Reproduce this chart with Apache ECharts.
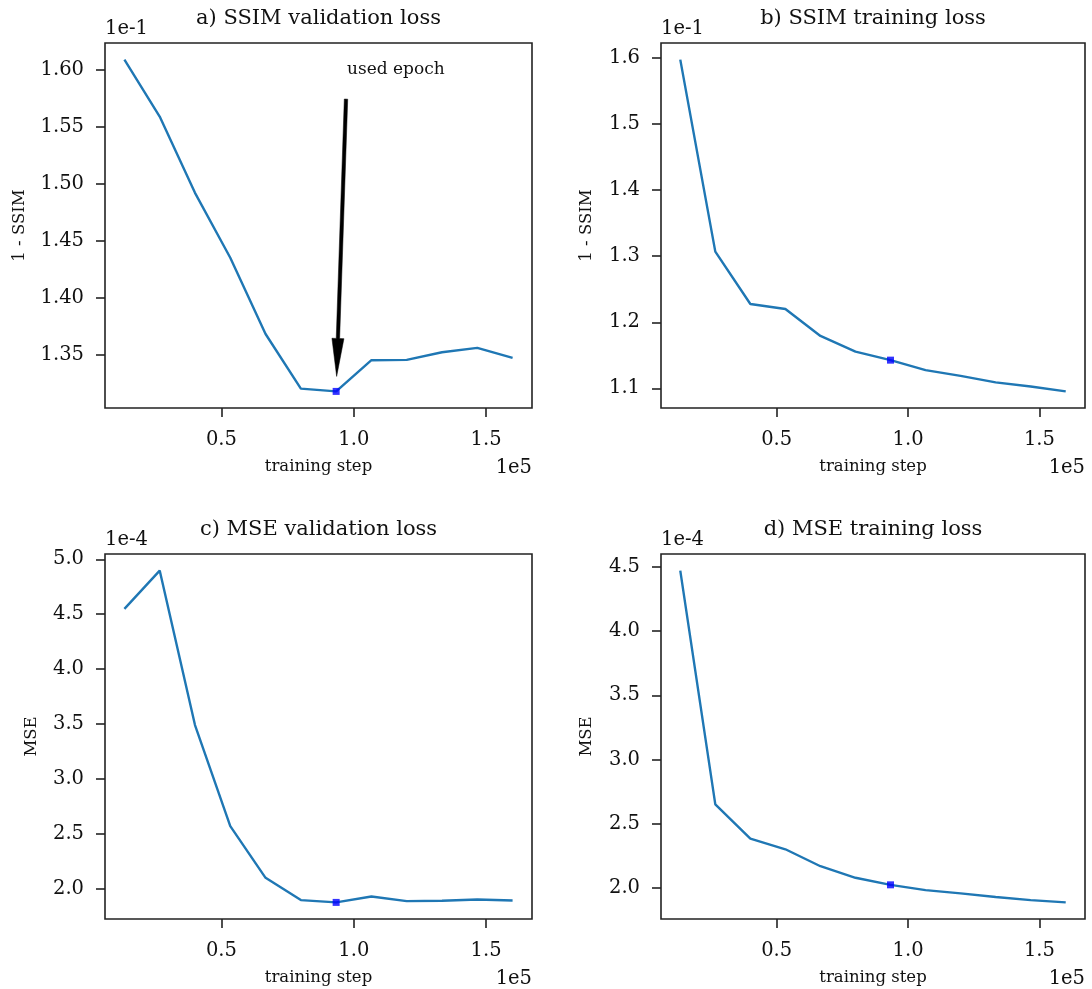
<!DOCTYPE html>
<html>
<head>
<meta charset="utf-8">
<script src="https://cdn.jsdelivr.net/npm/echarts@6/dist/echarts.min.js"></script>
<style>
html,body{margin:0;padding:0;background:#fff;}
#chart{width:1092px;height:989px;}
</style>
</head>
<body>
<div id="chart"></div>
<script>
// ---- data (values in the units shown on each axis: x in steps, y scaled by the offset label) ----
const steps = [13333, 26667, 40000, 53333, 66667, 80000, 93333, 106667, 120000, 133333, 146667, 160000];
const ssimVal   = [1.609, 1.559, 1.492, 1.435, 1.368, 1.320, 1.3176, 1.345, 1.3453, 1.352, 1.3558, 1.347];
const ssimTrain = [1.5975, 1.307, 1.2277, 1.2201, 1.1794, 1.1557, 1.1428, 1.1277, 1.1191, 1.1091, 1.103, 1.0955];
const mseVal    = [4.549, 4.897, 3.491, 2.570, 2.100, 1.897, 1.876, 1.930, 1.888, 1.891, 1.903, 1.894];
const mseTrain  = [4.4715, 2.650, 2.3835, 2.300, 2.168, 2.078, 2.023, 1.982, 1.956, 1.928, 1.904, 1.886];
const usedIdx = 6;
const titles = ['a) SSIM validation loss', 'b) SSIM training loss', 'c) MSE validation loss', 'd) MSE training loss'];
const yNames = ['1 - SSIM', '1 - SSIM', 'MSE', 'MSE'];
const yOffsets = ['1e-1', '1e-1', '1e-4', '1e-4'];
const xName = 'training step';
const xOffset = '1e5';
const xTicks = [50000, 100000, 150000];
const yTicks = [
  [1.35, 1.40, 1.45, 1.50, 1.55, 1.60],
  [1.1, 1.2, 1.3, 1.4, 1.5, 1.6],
  [2.0, 2.5, 3.0, 3.5, 4.0, 4.5, 5.0],
  [2.0, 2.5, 3.0, 3.5, 4.0, 4.5]
];
const yDecimals = [2, 1, 1, 1];
const annotText = 'used epoch';
const arrowTail = [97060, 1.5743]; // annotation start (data coords, panel a)

// ---- layout ----
const seriesData = [ssimVal, ssimTrain, mseVal, mseTrain];
const grids = [
  {left:105, top:43, width:427, height:365},
  {left:661, top:43, width:424, height:365},
  {left:105, top:554, width:427, height:365},
  {left:661, top:554, width:424, height:365}
];
const FONT = '"DejaVu Serif", "Liberation Serif", serif';
const INK = '#111';
const FRAME = '#222';

function pad(arr){
  const mn = Math.min.apply(null, arr), mx = Math.max.apply(null, arr);
  const r = mx - mn;
  return [mn - 0.05*r, mx + 0.05*r];
}
const xr = pad(steps);

const chart = echarts.init(document.getElementById('chart'), null, {renderer:'canvas'});

const option = {
  animation:false,
  backgroundColor:'#fff',
  grid: grids.map(g => Object.assign({show:true, borderColor:FRAME, borderWidth:1.6, backgroundColor:'transparent', containLabel:false}, g)),
  xAxis: grids.map((g,i) => ({
    type:'value', gridIndex:i, min:xr[0], max:xr[1],
    axisLine:{show:false},
    splitLine:{show:false},
    axisTick:{show:true, inside:false, length:9, lineStyle:{color:FRAME, width:1.6}, customValues:xTicks},
    axisLabel:{show:true, margin:22, fontSize:19.5, fontFamily:FONT, color:INK, customValues:xTicks,
      formatter: v => (v/1e5).toFixed(1)}
  })),
  yAxis: grids.map((g,i) => {
    const r = pad(seriesData[i]);
    return {
      type:'value', gridIndex:i, min:r[0], max:r[1],
      axisLine:{show:false},
      splitLine:{show:false},
      axisTick:{show:true, inside:false, length:9, lineStyle:{color:FRAME, width:1.6}, customValues:yTicks[i]},
      axisLabel:{show:true, margin:21, fontSize:19.5, fontFamily:FONT, color:INK, customValues:yTicks[i],
        formatter: v => v.toFixed(yDecimals[i])}
    };
  }),
  series: []
};
seriesData.forEach((d,i) => {
  option.series.push({
    type:'line', xAxisIndex:i, yAxisIndex:i,
    data: steps.map((s,k) => [s, d[k]]),
    showSymbol:false, symbol:'none', clip:false,
    lineStyle:{color:'#1f77b4', width:2.4},
    z:2
  });
  option.series.push({
    type:'scatter', xAxisIndex:i, yAxisIndex:i,
    data: [[steps[usedIdx], d[usedIdx]]],
    symbol:'rect', symbolSize:7,
    itemStyle:{color:'#0000ff'},
    z:3
  });
});
chart.setOption(option);

// ---- texts and annotation ----
const graphics = [];
grids.forEach((g,i) => {
  const cx = g.left + g.width/2;
  graphics.push({type:'text', x:cx, y:g.top - 24, style:{text:titles[i], fontSize:21, fontFamily:FONT, fill:INK, align:'center', verticalAlign:'middle'}});
  graphics.push({type:'text', x:g.left, y:g.top - 14.5, style:{text:yOffsets[i], fontSize:19.5, fontFamily:FONT, fill:INK, align:'left', verticalAlign:'middle'}});
  graphics.push({type:'text', x:cx, y:g.top + g.height + 59, style:{text:xName, fontSize:16.5, fontFamily:FONT, fill:INK, align:'center', verticalAlign:'middle'}});
  graphics.push({type:'text', x:g.left + g.width, y:g.top + g.height + 59.5, style:{text:xOffset, fontSize:19.5, fontFamily:FONT, fill:INK, align:'right', verticalAlign:'middle'}});
  const yx = (i % 2 === 0) ? (i === 0 ? 20 : 32) : 587;
  graphics.push({type:'text', x:yx, y:g.top + g.height/2, rotation:Math.PI/2, style:{text:yNames[i], fontSize:16.5, fontFamily:FONT, fill:INK, align:'center', verticalAlign:'middle'}});
});

// arrow in panel a, pointing at the used epoch
const T = chart.convertToPixel({gridIndex:0}, arrowTail);
const Pt = chart.convertToPixel({gridIndex:0}, [steps[usedIdx], ssimVal[usedIdx]]);
let dx = Pt[0]-T[0], dy = Pt[1]-T[1];
const L = Math.sqrt(dx*dx+dy*dy);
dx /= L; dy /= L;
const shrink = 15, headLen = 38, headHalf = 6, shaftHalf = 1.7;
const tip = [Pt[0]-dx*shrink, Pt[1]-dy*shrink];
const hb = [tip[0]-dx*headLen, tip[1]-dy*headLen];
const nx = -dy, ny = dx;
graphics.push({type:'polygon', shape:{points:[
  [T[0]+nx*shaftHalf, T[1]+ny*shaftHalf],
  [hb[0]+nx*shaftHalf, hb[1]+ny*shaftHalf],
  [hb[0]+nx*headHalf, hb[1]+ny*headHalf],
  tip,
  [hb[0]-nx*headHalf, hb[1]-ny*headHalf],
  [hb[0]-nx*shaftHalf, hb[1]-ny*shaftHalf],
  [T[0]-nx*shaftHalf, T[1]-ny*shaftHalf]
]}, style:{fill:'#000', stroke:'#000', lineWidth:0.5}, z:10});
graphics.push({type:'text', x:T[0]+1, y:T[1]-30, style:{text:annotText, fontSize:17, fontFamily:FONT, fill:INK, align:'left', verticalAlign:'middle'}, z:10});

chart.setOption({graphic: graphics});
</script>
</body>
</html>
